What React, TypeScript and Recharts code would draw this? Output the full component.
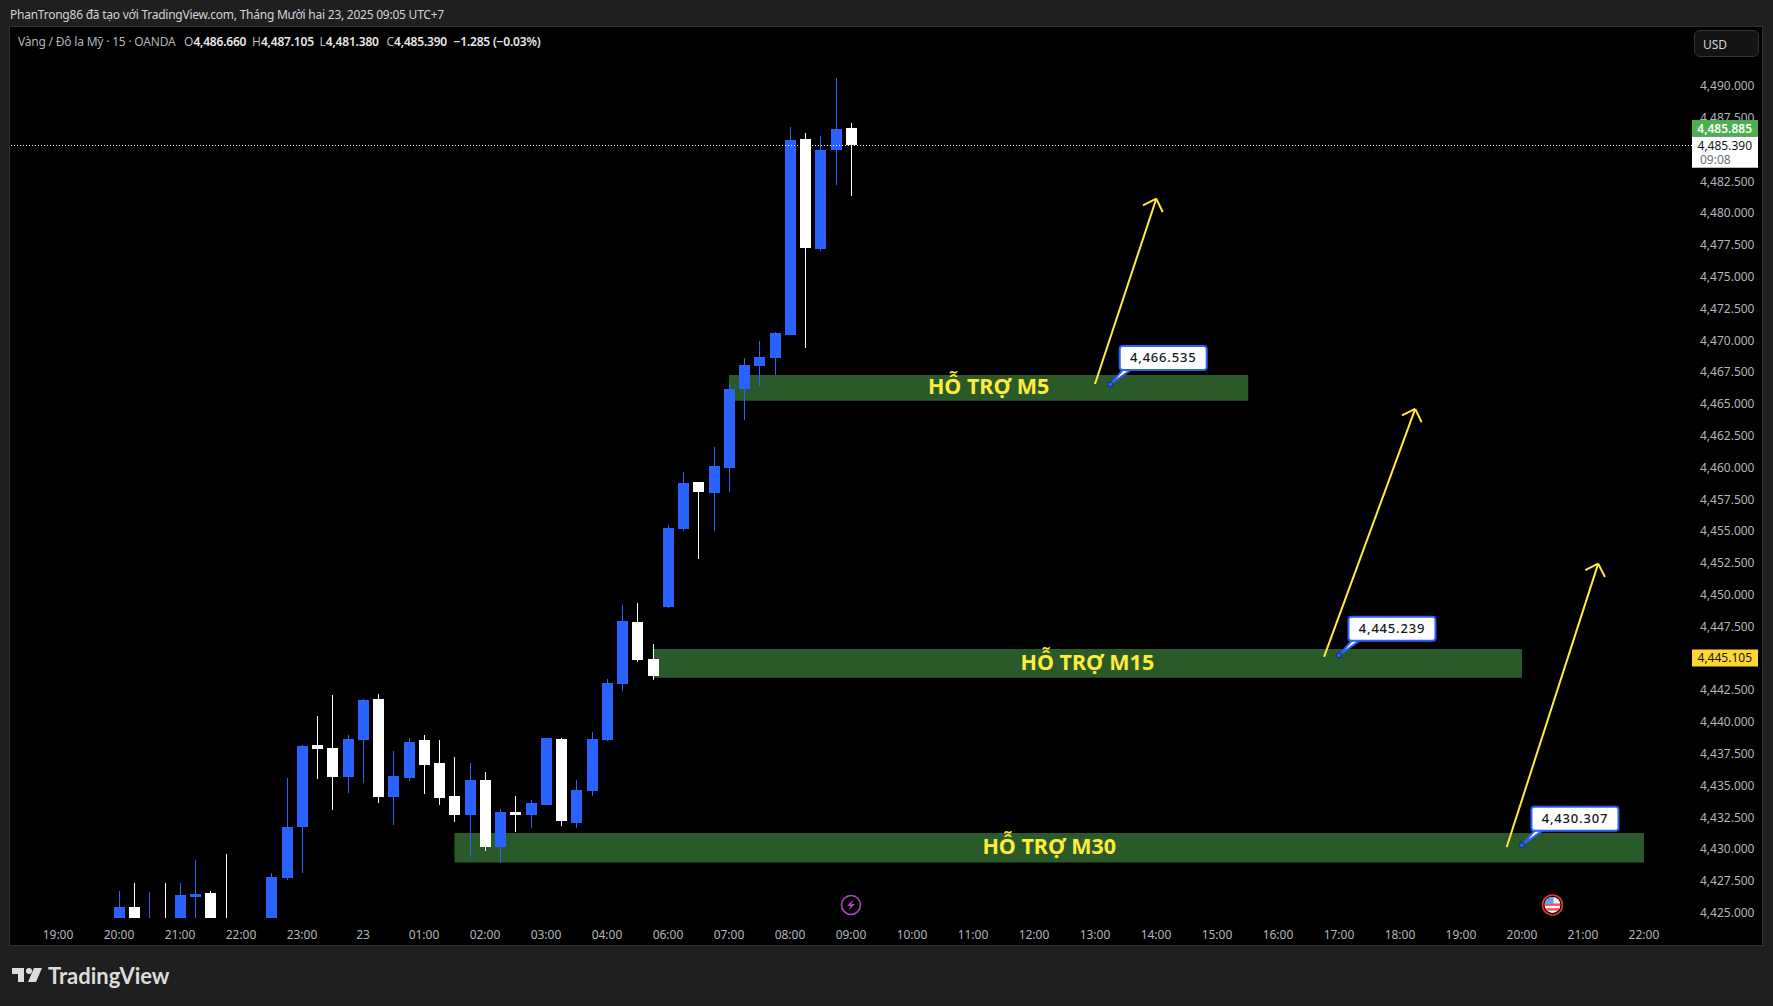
import React from 'react';
import { Bar, ComposedChart, ReferenceArea, ReferenceDot, ReferenceLine, XAxis, YAxis } from 'recharts';

const FONT = '"Noto Sans", Roboto, sans-serif';
const UP = '#2962ff';
const DOWN = '#ffffff';
const AXIS_TEXT = '#b2b5be';
const YELLOW = '#ffeb3b';

// one slot = one 15 minute candle, slot 0 is 19:00
const firstSlot = 4;
const opens = [
  4424.2, 4425.46, 4423.6, 4424.2, 4423.9, 4426.24, 4426.55, 4424.3, 4423.2, 4423.0, 4424.0, 4427.74, 4431.74,
  4438.19, 4437.96, 4435.67, 4438.58, 4441.81, 4434.1, 4435.59, 4438.58, 4436.77, 4434.18, 4432.69, 4435.44,
  4430.17, 4432.92, 4432.69, 4433.47, 4438.66, 4432.06, 4434.57, 4438.58, 4442.99, 4447.86, 4444.95, 4449.04,
  4455.17, 4458.87, 4458.0, 4459.97, 4466.18, 4467.98, 4468.62, 4470.42, 4485.83, 4477.18, 4484.96, 4486.66,
];
const highs = [
  4426.71, 4427.34, 4426.63, 4427.34, 4427.34, 4429.15, 4426.71, 4429.62, 4424.1, 4423.6, 4428.13, 4435.6, 4438.2,
  4440.47, 4442.12, 4438.98, 4441.81, 4442.2, 4437.72, 4438.74, 4438.98, 4438.58, 4437.25, 4436.77, 4436.06,
  4433.16, 4434.18, 4433.87, 4438.74, 4438.74, 4435.44, 4439.21, 4443.38, 4449.2, 4449.36, 4446.13, 4455.49,
  4459.65, 4458.87, 4461.62, 4466.65, 4468.62, 4469.95, 4470.66, 4486.77, 4486.3, 4486.07, 4490.62, 4487.105,
];
const lows = [
  4423.9, 4423.8, 4423.2, 4423.4, 4423.6, 4424.0, 4423.9, 4423.5, 4422.4, 4422.2, 4423.7, 4427.6, 4428.13,
  4435.52, 4433.08, 4434.41, 4435.2, 4433.63, 4431.9, 4435.36, 4434.34, 4433.47, 4432.13, 4429.38, 4429.85,
  4428.91, 4431.35, 4431.66, 4433.47, 4431.82, 4431.66, 4434.18, 4438.5, 4442.44, 4444.72, 4443.3, 4448.96,
  4455.02, 4452.81, 4455.02, 4458.08, 4463.74, 4466.41, 4467.28, 4470.42, 4469.4, 4477.02, 4482.21, 4481.38,
];
const closes = [
  4425.46, 4424.0, 4424.2, 4423.7, 4426.4, 4426.47, 4424.1, 4423.8, 4424.1, 4423.5, 4427.81, 4431.74, 4438.11,
  4437.88, 4435.67, 4438.66, 4441.73, 4434.1, 4435.75, 4438.42, 4436.62, 4434.02, 4432.69, 4435.44, 4430.17,
  4432.92, 4432.69, 4433.63, 4438.74, 4432.21, 4434.65, 4438.66, 4443.06, 4447.94, 4444.87, 4443.62, 4455.25,
  4458.79, 4458.08, 4460.13, 4466.18, 4468.06, 4468.69, 4470.58, 4485.75, 4477.26, 4484.96, 4486.62, 4485.39,
];

const timeLabels = [
  '19:00', '20:00', '21:00', '22:00', '23:00', '23', '01:00', '02:00', '03:00', '04:00', '06:00', '07:00', '08:00',
  '09:00', '10:00', '11:00', '12:00', '13:00', '14:00', '15:00', '16:00', '17:00', '18:00', '19:00', '20:00',
  '21:00', '22:00',
];
const priceTicks = [
  4425, 4427.5, 4430, 4432.5, 4435, 4437.5, 4440, 4442.5, 4445, 4447.5, 4450, 4452.5, 4455, 4457.5, 4460, 4462.5,
  4465, 4467.5, 4470, 4472.5, 4475, 4477.5, 4480, 4482.5, 4485, 4487.5, 4490,
];

const zoneNames = ['HỖ TRỢ M5', 'HỖ TRỢ M15', 'HỖ TRỢ M30'];
const zoneStart = [44, 39, 26];
const zoneEnd = [78.05, 96, 104];
const zoneTop = [4467.28, 4445.74, 4431.27];
const zoneBottom = [4465.26, 4443.48, 4428.94];

const noteSlots = [69, 84, 96];
const notePrices = [4466.535, 4445.239, 4430.307];

// each arrow: start, tip, left wing, right wing as [slot, price]
const arrows = [
  [[68, 4466.57], [72.02, 4481.14], [71.15, 4480.62], [72.44, 4480.09]],
  [[83.02, 4445.11], [89, 4464.61], [88.13, 4464.11], [89.42, 4463.56]],
  [[95, 4430.17], [101, 4452.45], [100.15, 4451.93], [101.44, 4451.4]],
];

const lastPrice = 4485.39;
const lastLineLevel = 4485.32; // where the dotted line sits on screen
const askPrice = 4485.885;
const markedPrice = 4445.105;
const countdown = '09:08';
const eventSlots = [52, 98];
const eventPrice = 4425.61;

const slotMin = -3.148;
const slotMax = 107.15;
const priceMin = 4424.583;
const priceMax = 4494.718;

const candles = opens.map((open, i) => ({
  slot: firstSlot + i,
  open,
  close: closes[i],
  range: [lows[i], highs[i]],
}));

const fmtPrice = (v: number) =>
  v.toLocaleString('en-US', { minimumFractionDigits: 3, maximumFractionDigits: 3 });

const Candle = (props: any) => {
  const { x, y, width, height, payload } = props;
  const [low, high] = payload.range;
  const perUnit = height / (high - low);
  const yOf = (v: number) => Math.round(y + (high - v) * perUnit);
  const cx = Math.round(x + width / 2);
  const color = payload.close >= payload.open ? UP : DOWN;
  const top = yOf(Math.max(payload.open, payload.close));
  const bottom = yOf(Math.min(payload.open, payload.close));
  return (
    <g>
      <rect x={cx} y={yOf(high)} width={1} height={Math.max(yOf(low) - yOf(high), 0)} fill={color} />
      <rect x={cx - 5} y={top} width={11} height={Math.max(bottom - top, 3)} fill={color} />
    </g>
  );
};

const PriceNote = ({ cx, cy, value }: any) => (
  <g>
    <path d={`M${cx} ${cy} L${cx + 13} ${cy - 15} L${cx + 21} ${cy - 15} Z`} fill="#ffffff" stroke={UP} strokeWidth={2} />
    <rect x={cx + 9.5} y={cy - 38.5} width={87} height={24} rx={3} fill="#ffffff" stroke={UP} strokeWidth={2} />
    <circle cx={cx} cy={cy} r={2.5} fill={UP} stroke="#0c2a7a" strokeWidth={1} />
    <text x={cx + 53} y={cy - 22} textAnchor="middle" fontFamily={FONT} fontSize={13} fontWeight={500} letterSpacing={0.8} fill="#131722">
      {value}
    </text>
  </g>
);

const tagText = { fontFamily: FONT, fontSize: 12, textAnchor: 'end' as const };

const AskTag = ({ cx, cy, value }: any) => (
  <g>
    <rect x={cx} y={cy - 25.5} width={66} height={16.7} fill="#4caf50" />
    <text x={cx + 60} y={cy - 13} {...tagText} fontWeight={600} fill="#ffffff">{value}</text>
  </g>
);

const LastTag = ({ cx, cy, value }: any) => (
  <g>
    <rect x={cx} y={cy - 8.8} width={66} height={31} fill="#ffffff" />
    <text x={cx + 60} y={cy + 4} {...tagText} fill="#131722">{value}</text>
    <text x={cx + 8} y={cy + 18.5} fontFamily={FONT} fontSize={12} fill="#6a6d78">{countdown}</text>
  </g>
);

const MarkTag = ({ cx, cy, value }: any) => (
  <g>
    <rect x={cx} y={cy - 7.5} width={66} height={17} fill="#fdd835" />
    <text x={cx + 60} y={cy + 5} {...tagText} fill="#131722">{value}</text>
  </g>
);

const BoltIcon = ({ cx, cy }: any) => (
  <g>
    <circle cx={cx} cy={cy} r={9.5} fill="none" stroke="#ab47bc" strokeWidth={1.6} />
    <path d={`M${cx + 2.5} ${cy - 5.5} L${cx - 4} ${cy + 1} L${cx - 0.5} ${cy + 1} L${cx - 2.5} ${cy + 5.5} L${cx + 4} ${cy - 1} L${cx + 0.5} ${cy - 1} Z`} fill="#ab47bc" />
  </g>
);

const FlagIcon = ({ cx, cy }: any) => (
  <g>
    <circle cx={cx} cy={cy} r={10} fill="#0b0b0b" stroke="#e53935" strokeWidth={1.6} />
    <clipPath id="flagClip"><circle cx={cx} cy={cy} r={8} /></clipPath>
    <g clipPath="url(#flagClip)">
      <rect x={cx - 8} y={cy - 8} width={16} height={16} fill="#f8f8f8" />
      <rect x={cx - 8} y={cy - 1.5} width={16} height={2.4} fill="#ef5350" />
      <rect x={cx - 8} y={cy + 3.3} width={16} height={2.4} fill="#ef5350" />
      <rect x={cx - 8} y={cy - 8} width={9} height={7} fill="#64a0e8" />
    </g>
  </g>
);

const ohlc = [
  { left: 184, label: 'O', value: '4,486.660' },
  { left: 252, label: 'H', value: '4,487.105' },
  { left: 319.5, label: 'L', value: '4,481.380' },
  { left: 386.5, label: 'C', value: '4,485.390' },
];

export default function App() {
  return (
    <div style={{ position: 'absolute', left: 0, top: 0, width: 1773, height: 1006, background: '#1f1f1f', overflow: 'hidden', fontFamily: FONT }}>
      <div style={{ position: 'absolute', left: 10, top: 14, fontSize: 12, lineHeight: '1px', letterSpacing: -0.24, color: '#d1d4dc', whiteSpace: 'nowrap' }}>
        PhanTrong86 đã tạo với TradingView.com, Tháng Mười hai 23, 2025 09:05 UTC+7
      </div>
      <div style={{ position: 'absolute', left: 9, top: 26, width: 1752, height: 918, background: '#000', border: '1px solid #2e2e2e', boxSizing: 'content-box' }} />
      <ComposedChart
        width={1773}
        height={1006}
        data={candles}
        margin={{ top: 26, left: 10, right: 11, bottom: 61 }}
        style={{ position: 'absolute', left: 0, top: 0 }}
      >
        <XAxis
          dataKey="slot"
          type="number"
          domain={[slotMin, slotMax]}
          allowDataOverflow
          ticks={timeLabels.map((_, i) => i * 4)}
          interval={0}
          tickFormatter={(v: number) => timeLabels[v / 4]}
          axisLine={false}
          tickLine={false}
          height={27}
          tickMargin={6}
          tick={{ fill: AXIS_TEXT, fontSize: 12, fontFamily: FONT }}
        />
        <YAxis
          orientation="right"
          type="number"
          domain={[priceMin, priceMax]}
          allowDataOverflow
          ticks={priceTicks}
          interval={0}
          tickFormatter={fmtPrice}
          axisLine={false}
          tickLine={false}
          width={70}
          tickMargin={2}
          tick={{ fill: AXIS_TEXT, fontSize: 12, fontFamily: FONT }}
        />
        {zoneNames.map((name, i) => (
          <ReferenceArea
            key={name}
            x1={zoneStart[i]}
            x2={zoneEnd[i]}
            y1={zoneBottom[i]}
            y2={zoneTop[i]}
            fill="#2a5a2a"
            fillOpacity={1}
            stroke="none"
            label={{ value: name, position: 'center', dy: -1, fill: YELLOW, fontSize: 21.5, fontWeight: 700, fontFamily: FONT }}
          />
        ))}
        <ReferenceLine y={lastLineLevel} stroke="#ffffff" strokeDasharray="1 2" strokeWidth={1} />
        <Bar dataKey="range" barSize={11} isAnimationActive={false} shape={<Candle />} />
        {arrows.map((pts, i) =>
          [[0, 1], [2, 1], [3, 1]].map(([a, b]) => (
            <ReferenceLine
              key={`${i}-${a}`}
              segment={[{ x: pts[a][0], y: pts[a][1] }, { x: pts[b][0], y: pts[b][1] }]}
              stroke={YELLOW}
              strokeWidth={2}
            />
          )),
        )}
        {notePrices.map((p, i) => (
          <ReferenceDot key={p} x={noteSlots[i]} y={p} shape={(s: any) => <PriceNote {...s} value={fmtPrice(p)} />} />
        ))}
        <ReferenceDot x={eventSlots[0]} y={eventPrice} shape={(s: any) => <BoltIcon {...s} />} />
        <ReferenceDot x={eventSlots[1]} y={eventPrice} shape={(s: any) => <FlagIcon {...s} />} />
        <ReferenceDot x={slotMax} y={lastLineLevel} zIndex={3000} shape={(s: any) => <AskTag {...s} value={fmtPrice(askPrice)} />} />
        <ReferenceDot x={slotMax} y={lastLineLevel} zIndex={3000} shape={(s: any) => <LastTag {...s} value={fmtPrice(lastPrice)} />} />
        <ReferenceDot x={slotMax} y={markedPrice} zIndex={3000} shape={(s: any) => <MarkTag {...s} value={fmtPrice(markedPrice)} />} />
      </ComposedChart>
      <div style={{ position: 'absolute', top: 41, left: 0, fontSize: 12, lineHeight: '1px', whiteSpace: 'nowrap', color: '#b2b5be' }}>
        <span style={{ position: 'absolute', left: 18, letterSpacing: -0.2 }}>Vàng / Đô la Mỹ · 15 · OANDA</span>
        {ohlc.map((o) => (
          <span key={o.label} style={{ position: 'absolute', left: o.left }}>
            {o.label}
            <b style={{ color: '#e8e8e8', fontWeight: 600, letterSpacing: -0.2 }}>{o.value}</b>
          </span>
        ))}
        <span style={{ position: 'absolute', left: 453.5, color: '#e8e8e8', fontWeight: 600, letterSpacing: -0.2 }}>−1.285 (−0.03%)</span>
      </div>
      <div style={{ position: 'absolute', left: 1694, top: 30, width: 65, height: 27, boxSizing: 'border-box', background: '#141414', border: '1px solid #333', borderRadius: 6, color: '#d1d4dc', fontSize: 12, lineHeight: '27px', paddingLeft: 8 }}>
        USD
      </div>
      <svg width={32} height={16} style={{ position: 'absolute', left: 11, top: 967 }}>
        <path d="M1 1 H13 V15 H7 V7 H1 Z" fill="#dcdcdc" />
        <circle cx={18} cy={4} r={3} fill="#dcdcdc" />
        <path d="M23 1 H31 L25 15 H17 Z" fill="#dcdcdc" />
      </svg>
      <div style={{ position: 'absolute', left: 48, top: 962, fontFamily: 'Lato, sans-serif', fontSize: 22, fontWeight: 700, lineHeight: '28px', color: '#dcdcdc' }}>
        TradingView
      </div>
    </div>
  );
}
